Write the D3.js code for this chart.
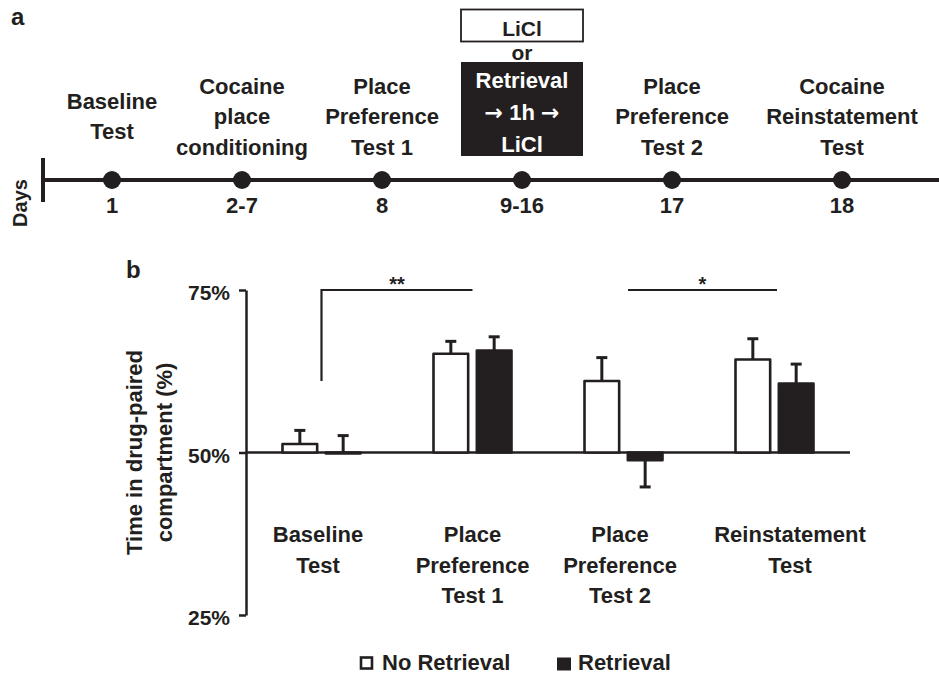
<!DOCTYPE html>
<html>
<head>
<meta charset="utf-8">
<script src="https://cdn.jsdelivr.net/npm/d3@7"></script>
<style>
  body { margin: 0; background: #fff; }
  svg { display: block; font-family: "Liberation Sans", Arial, sans-serif; font-weight: bold; }
</style>
</head>
<body>
<div id="chart"></div>
<script>
// timeline (panel a)
const days = ["1", "2-7", "8", "9-16", "17", "18"];
const phaseLabels = [
    ["Baseline", "Test"],
    ["Cocaine", "place", "conditioning"],
    ["Place", "Preference", "Test 1"],
    [],
    ["Place", "Preference", "Test 2"],
    ["Cocaine", "Reinstatement", "Test"]
];
const treatmentDay = "9-16";
const treatmentTop = ["LiCl"];
const treatmentOr = "or";
const treatmentBottom = [["Retrieval"], ["\u2192", " 1h ", "\u2192"], ["LiCl"]];

// bar chart (panel b)
const categories = ["Baseline Test", "Place Preference Test 1", "Place Preference Test 2", "Reinstatement Test"];
const categoryLines = [
    ["Baseline", "Test"],
    ["Place", "Preference", "Test 1"],
    ["Place", "Preference", "Test 2"],
    ["Reinstatement", "Test"]
];
const series = ["No Retrieval", "Retrieval"];
const noRetrievalMean = [51.3, 65.2, 61.0, 64.3];
const noRetrievalSem = [2.1, 1.9, 3.6, 3.2];
const retrievalMean = [50.0, 65.7, 48.8, 60.6];
const retrievalSem = [2.6, 2.1, 4.1, 3.0];
const yTicks = [25, 50, 75];
const chance = 50;
const brackets = [
    { from: "Baseline Test", to: "Place Preference Test 1", label: "**", drop: 61 },
    { from: "Place Preference Test 2", to: "Reinstatement Test", label: "*", drop: null }
];

const width = 939, height = 676;
const ink = "#231f20";

const svg = d3.select("#chart").append("svg")
    .attr("width", width)
    .attr("height", height);

// ---------- panel a ----------
svg.append("text").attr("x", 11).attr("y", 25)
    .attr("font-size", 24).attr("fill", ink).text("a");

const lineY = 180;
const tx = d3.scaleOrdinal().domain(days).range([112, 242, 382, 522, 672, 842]);

svg.append("line")
    .attr("x1", 43).attr("x2", width)
    .attr("y1", lineY).attr("y2", lineY)
    .attr("stroke", ink).attr("stroke-width", 4);
svg.append("line")
    .attr("x1", 43).attr("x2", 43)
    .attr("y1", 158).attr("y2", 202)
    .attr("stroke", ink).attr("stroke-width", 4);

svg.append("text")
    .attr("transform", `translate(27,203) rotate(-90)`)
    .attr("text-anchor", "middle")
    .attr("font-size", 20).attr("fill", ink)
    .text("Days");

svg.selectAll(".dot").data(days).join("circle")
    .attr("cx", d => tx(d)).attr("cy", lineY).attr("r", 9)
    .attr("fill", ink);

svg.selectAll(".day").data(days).join("text")
    .attr("x", d => tx(d)).attr("y", 213)
    .attr("text-anchor", "middle")
    .attr("font-size", 22).attr("fill", ink)
    .text(d => d);

days.forEach((d, i) => {
    const lines = phaseLabels[i];
    const t = svg.append("text")
        .attr("text-anchor", "middle")
        .attr("font-size", 22).attr("fill", ink);
    lines.forEach((s, j) => {
        t.append("tspan")
            .attr("x", tx(d))
            .attr("y", 124 + (j - (lines.length - 1) / 2) * 30.5)
            .text(s);
    });
});

// treatment boxes
const bx = tx(treatmentDay), bw = 122;
svg.append("rect")
    .attr("x", bx - bw / 2).attr("y", 9.5)
    .attr("width", bw).attr("height", 32)
    .attr("fill", "#fff").attr("stroke", ink).attr("stroke-width", 1.8);
svg.append("text")
    .attr("x", bx).attr("y", 36)
    .attr("text-anchor", "middle").attr("font-size", 21).attr("fill", ink)
    .text(treatmentTop[0]);
svg.append("text")
    .attr("x", bx).attr("y", 60)
    .attr("text-anchor", "middle").attr("font-size", 21).attr("fill", ink)
    .text(treatmentOr);
svg.append("rect")
    .attr("x", bx - bw / 2).attr("y", 62)
    .attr("width", bw).attr("height", 94)
    .attr("fill", ink);
treatmentBottom.forEach((parts, j) => {
    const t = svg.append("text")
        .attr("x", bx).attr("y", 88 + j * 32)
        .attr("text-anchor", "middle").attr("font-size", 22).attr("fill", "#fff");
    parts.forEach(p => {
        t.append("tspan")
            .attr("font-family", p === "\u2192" ? "DejaVu Sans" : null)
            .text(p);
    });
});

// ---------- panel b ----------
svg.append("text").attr("x", 126).attr("y", 278)
    .attr("font-size", 24).attr("fill", ink).text("b");

const x0 = d3.scaleBand().domain(categories).range([246, 850]);
const x1 = d3.scaleBand().domain(series)
    .range([x0.bandwidth() / 2 - 39, x0.bandwidth() / 2 + 39])
    .paddingInner(0.2);
const y = d3.scaleLinear().domain([25, 75]).range([615, 290]);

const yAxis = svg.append("g")
    .attr("transform", "translate(246,0)")
    .call(d3.axisLeft(y).tickValues(yTicks).tickSize(7).tickSizeOuter(0)
        .tickPadding(9).tickFormat(d => d + "%"));
yAxis.select(".domain").attr("stroke", ink).attr("stroke-width", 2.5);
yAxis.selectAll(".tick line").attr("stroke", ink).attr("stroke-width", 2.5);
yAxis.selectAll(".tick text")
    .attr("font-size", 21).attr("font-family", "Liberation Sans, Arial, sans-serif")
    .attr("font-weight", "bold").attr("fill", ink).attr("dy", "0.46em");

const yl = svg.append("text")
    .attr("transform", `translate(0,${y(chance)}) rotate(-90)`)
    .attr("text-anchor", "middle").attr("font-size", 22).attr("fill", ink);
yl.append("tspan").attr("x", 0).attr("y", 142).text("Time in drug-paired");
yl.append("tspan").attr("x", 0).attr("y", 172).text("compartment (%)");

const rows = categories.map((c, i) => ({
    cat: c,
    values: [
        { s: series[0], mean: noRetrievalMean[i], sem: noRetrievalSem[i], fill: "#fff" },
        { s: series[1], mean: retrievalMean[i], sem: retrievalSem[i], fill: ink }
    ]
}));

// chance line
svg.append("line")
    .attr("x1", x0.range()[0]).attr("x2", x0.range()[1])
    .attr("y1", y(chance)).attr("y2", y(chance))
    .attr("stroke", ink).attr("stroke-width", 2.5);

const groups = svg.selectAll(".grp").data(rows).join("g")
    .attr("transform", d => `translate(${x0(d.cat)},0)`);

// error bars
groups.each(function (g) {
    const sel = d3.select(this);
    g.values.forEach(v => {
        const dir = v.mean >= chance ? 1 : -1;
        const cx = x1(v.s) + x1.bandwidth() / 2;
        const yEnd = y(v.mean + dir * v.sem);
        sel.append("line")
            .attr("x1", cx).attr("x2", cx)
            .attr("y1", y(v.mean)).attr("y2", yEnd)
            .attr("stroke", ink).attr("stroke-width", 3);
        sel.append("line")
            .attr("x1", cx - 5.5).attr("x2", cx + 5.5)
            .attr("y1", yEnd).attr("y2", yEnd)
            .attr("stroke", ink).attr("stroke-width", 3);
    });
});

groups.selectAll("rect").data(d => d.values).join("rect")
    .attr("x", d => x1(d.s))
    .attr("width", x1.bandwidth())
    .attr("y", d => Math.min(y(d.mean), y(chance)))
    .attr("height", d => Math.max(Math.abs(y(d.mean) - y(chance)), 1))
    .attr("fill", d => d.fill)
    .attr("stroke", ink).attr("stroke-width", 2.6)
    .attr("stroke-linejoin", "round");

// significance brackets
const bracketShift = [[0, 0], [4.5, 2.5]];
brackets.forEach((b, i) => {
    const xa = x0(b.from) + x0.bandwidth() / 2 + bracketShift[i][0];
    const xb = x0(b.to) + x0.bandwidth() / 2 + bracketShift[i][1];
    const top = y(75);
    let d = `M${xa},${top}H${xb}`;
    if (b.drop !== null) d = `M${xa},${y(b.drop)}V${top}H${xb}`;
    svg.append("path").attr("d", d)
        .attr("fill", "none").attr("stroke", ink).attr("stroke-width", 2.2);
    svg.append("text")
        .attr("x", (xa + xb) / 2).attr("y", top + 1)
        .attr("text-anchor", "middle").attr("font-size", 20).attr("fill", ink)
        .text(b.label);
});

// category labels
const labelShift = [-3.5, 0, -3.5, 15.5];
categories.forEach((c, i) => {
    const t = svg.append("text")
        .attr("text-anchor", "middle").attr("font-size", 22).attr("fill", ink);
    categoryLines[i].forEach((s, j) => {
        t.append("tspan")
            .attr("x", x0(c) + x0.bandwidth() / 2 + labelShift[i])
            .attr("y", 542 + j * 30.5)
            .text(s);
    });
});

// legend
const legendX = [361, 557];
series.forEach((s, i) => {
    svg.append("rect")
        .attr("x", legendX[i]).attr("y", 657.5)
        .attr("width", i === 0 ? 11 : 14).attr("height", i === 0 ? 11 : 13)
        .attr("fill", i === 0 ? "#fff" : ink)
        .attr("stroke", ink).attr("stroke-width", i === 0 ? 2.6 : 0);
    svg.append("text")
        .attr("x", legendX[i] + 21).attr("y", 670)
        .attr("font-size", 22).attr("fill", ink)
        .text(s);
});
</script>
</body>
</html>
